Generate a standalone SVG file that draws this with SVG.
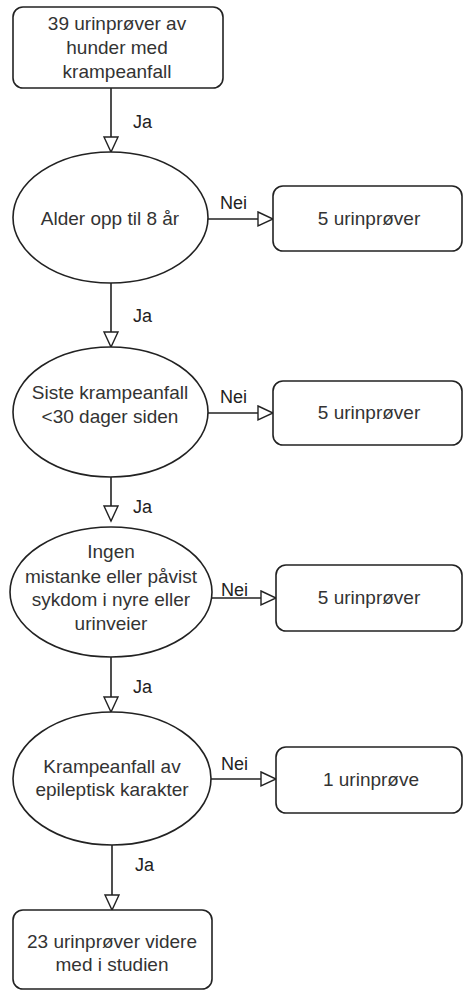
<svg xmlns="http://www.w3.org/2000/svg" width="464" height="992" viewBox="0 0 464 992">
<defs>
<marker id="arr" markerUnits="userSpaceOnUse" markerWidth="18" markerHeight="17" refX="16" refY="8" orient="auto">
<path d="M1,1 L16,8 L1,15 Z" fill="#fff" stroke="#222" stroke-width="1.4"/>
</marker>
<style>
.n{fill:#fff;stroke:#222;stroke-width:1.6}
.t{font-family:"Liberation Sans",Arial,sans-serif;font-size:19px;fill:#333;text-anchor:middle}
.l{font-family:"Liberation Sans",Arial,sans-serif;font-size:18px;fill:#222}
.c{fill:none;stroke:#222;stroke-width:1.6;marker-end:url(#arr)}
</style>
</defs>
<rect width="464" height="992" fill="#fff"/>
<g id="connectors">
<path class="c" d="M111,88 V152"/>
<path class="c" d="M208,219 H273"/>
<path class="c" d="M111,283 V347"/>
<path class="c" d="M208,413 H273"/>
<path class="c" d="M111,477 V521"/>
<path class="c" d="M212,598 H276"/>
<path class="c" d="M111,657 V712"/>
<path class="c" d="M211,779 H276"/>
<path class="c" d="M112,845 V910"/>
<text class="l" x="133" y="128">Ja</text>
<text class="l" x="220" y="209">Nei</text>
<text class="l" x="133" y="322">Ja</text>
<text class="l" x="220" y="403">Nei</text>
<text class="l" x="133" y="513">Ja</text>
<text class="l" x="221" y="596">Nei</text>
<text class="l" x="133" y="693">Ja</text>
<text class="l" x="221" y="770">Nei</text>
<text class="l" x="135" y="871">Ja</text>
</g>
<g id="start">
<rect class="n" x="13" y="7" width="210" height="81" rx="10"/>
<text class="t" x="117" y="30">39 urinprøver av</text>
<text class="t" x="117" y="54">hunder med</text>
<text class="t" x="117" y="78">krampeanfall</text>
</g>
<g id="q1">
<ellipse class="n" cx="110.5" cy="217.5" rx="97.5" ry="65.5"/>
<text class="t" x="110" y="225">Alder opp til 8 år</text>
</g>
<g id="r1">
<rect class="n" x="273" y="186" width="189" height="65" rx="10"/>
<text class="t" x="369" y="225">5 urinprøver</text>
</g>
<g id="q2">
<ellipse class="n" cx="110.5" cy="412" rx="97.5" ry="65"/>
<text class="t" x="110" y="399">Siste krampeanfall</text>
<text class="t" x="110" y="423">&lt;30 dager siden</text>
</g>
<g id="r2">
<rect class="n" x="273" y="381" width="189" height="64" rx="10"/>
<text class="t" x="369" y="419">5 urinprøver</text>
</g>
<g id="q3">
<ellipse class="n" cx="111" cy="592" rx="101" ry="65"/>
<text class="t" x="111" y="558">Ingen</text>
<text class="t" x="111" y="583">mistanke eller påvist</text>
<text class="t" x="111" y="606">sykdom i nyre eller</text>
<text class="t" x="111" y="630">urinveier</text>
</g>
<g id="r3">
<rect class="n" x="276" y="565" width="186" height="66" rx="10"/>
<text class="t" x="369" y="604">5 urinprøver</text>
</g>
<g id="q4">
<ellipse class="n" cx="112" cy="778.5" rx="99" ry="66.5"/>
<text class="t" x="112" y="773">Krampeanfall av</text>
<text class="t" x="112" y="796">epileptisk karakter</text>
</g>
<g id="r4">
<rect class="n" x="276" y="747" width="186" height="66" rx="10"/>
<text class="t" x="371" y="786">1 urinprøve</text>
</g>
<g id="end">
<rect class="n" x="13" y="910" width="199" height="79" rx="10"/>
<text class="t" x="112" y="948">23 urinprøver videre</text>
<text class="t" x="112" y="971">med i studien</text>
</g>
</svg>
